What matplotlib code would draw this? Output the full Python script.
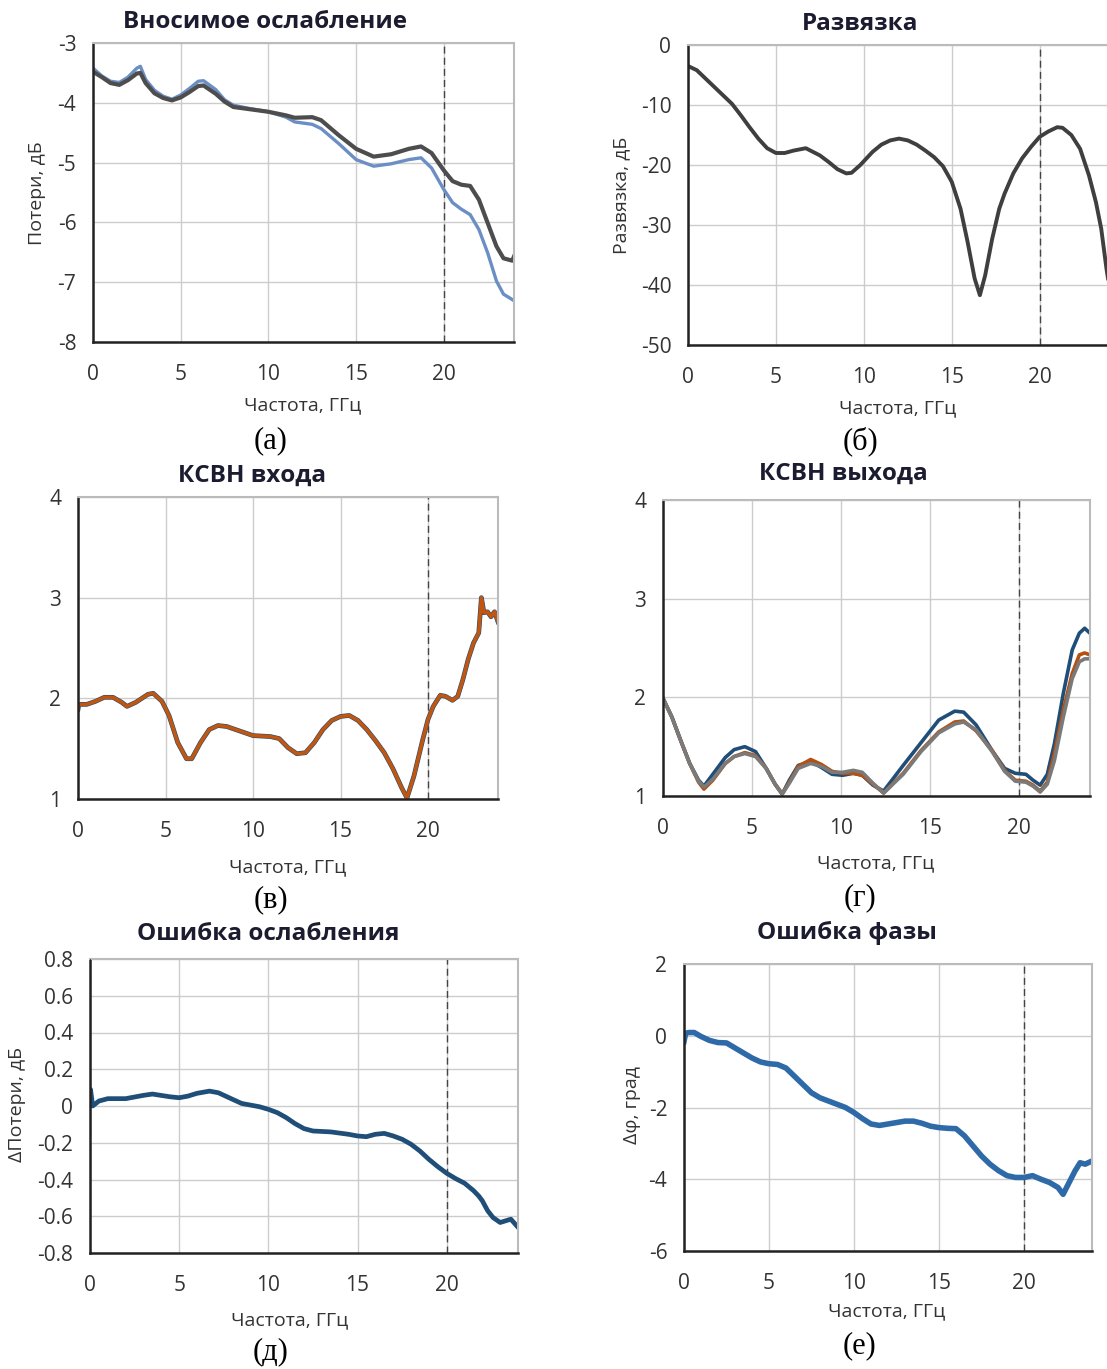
import matplotlib
matplotlib.use("Agg")
import matplotlib.pyplot as plt

plt.rcParams['font.family'] = ['Open Sans', 'DejaVu Sans']
plt.rcParams['axes.unicode_minus'] = False

# (а) Вносимое ослабление
f_a = [0, 0.5, 1, 1.5, 2, 2.5, 2.7, 3, 3.5, 4, 4.5, 5, 5.5, 6, 6.3, 7, 7.5, 8, 9, 10, 11, 11.5, 12.5,
       13, 14, 15, 16, 17, 18, 18.7, 19.3, 20, 20.5, 21, 21.5, 22, 22.5, 23, 23.4, 23.9, 24]
loss_gray = [-3.48, -3.57, -3.67, -3.70, -3.62, -3.51, -3.50, -3.67, -3.84, -3.92, -3.96, -3.91, -3.82,
             -3.72, -3.71, -3.85, -3.98, -4.07, -4.11, -4.15, -4.21, -4.25, -4.24, -4.29, -4.54, -4.77,
             -4.90, -4.86, -4.77, -4.73, -4.84, -5.13, -5.31, -5.37, -5.39, -5.62, -6.01, -6.40, -6.60,
             -6.64, -6.57]
loss_blue = [-3.42, -3.55, -3.64, -3.66, -3.57, -3.42, -3.39, -3.61, -3.79, -3.89, -3.94, -3.87, -3.76,
             -3.64, -3.63, -3.78, -3.95, -4.04, -4.10, -4.15, -4.24, -4.32, -4.36, -4.43, -4.68, -4.95,
             -5.06, -5.02, -4.95, -4.92, -5.09, -5.45, -5.67, -5.78, -5.87, -6.12, -6.51, -6.98, -7.20,
             -7.29, -7.31]

# (б) Развязка
f_b = [0, 0.5, 1, 1.5, 2, 2.5, 3, 3.5, 4, 4.5, 5, 5.5, 6, 6.7, 7.5, 8, 8.5, 9, 9.3, 9.8, 10.5, 11, 11.5,
       12, 12.5, 13, 13.5, 14, 14.5, 15, 15.5, 15.9, 16.3, 16.6, 16.9, 17.3, 17.7, 18, 18.5, 19, 19.5,
       20, 20.5, 21, 21.3, 21.8, 22.3, 22.8, 23.2, 23.5, 23.8, 24]
isol = [-3.5, -4.2, -5.6, -7.0, -8.4, -9.8, -11.7, -13.7, -15.6, -17.2, -18.0, -18.0, -17.6, -17.2,
        -18.4, -19.5, -20.7, -21.4, -21.3, -20.0, -17.8, -16.6, -15.9, -15.6, -15.9, -16.6, -17.6,
        -18.7, -20.2, -22.8, -27.3, -32.8, -38.9, -41.7, -38.4, -32.3, -27.3, -24.8, -21.4, -18.9,
        -17.0, -15.3, -14.4, -13.7, -13.8, -15.0, -17.3, -21.7, -26.2, -30.6, -37.3, -41.0]

# (в) КСВН входа
f_v = [0, 0.05, 0.5, 1, 1.5, 2, 2.5, 2.8, 3.3, 4, 4.3, 4.8, 5.2, 5.7, 6.2, 6.5, 7, 7.5, 8, 8.5, 9, 10,
       11, 11.5, 12, 12.5, 13, 13.5, 14, 14.5, 15, 15.5, 16, 16.5, 17, 17.5, 18, 18.5, 18.8, 19.2,
       19.7, 20, 20.3, 20.7, 21, 21.4, 21.7, 22, 22.3, 22.6, 22.9, 23.05, 23.2, 23.4, 23.6, 23.8, 24]
vswr_in = [1.89, 1.94, 1.94, 1.97, 2.01, 2.01, 1.96, 1.92, 1.96, 2.04, 2.05, 1.97, 1.83, 1.56, 1.40,
           1.40, 1.56, 1.69, 1.73, 1.72, 1.69, 1.63, 1.62, 1.60, 1.51, 1.45, 1.46, 1.56, 1.69, 1.78,
           1.82, 1.83, 1.78, 1.69, 1.58, 1.46, 1.30, 1.11, 1.01, 1.23, 1.59, 1.79, 1.92, 2.03, 2.02,
           1.98, 2.02, 2.19, 2.39, 2.55, 2.65, 3.00, 2.85, 2.86, 2.81, 2.86, 2.76]

# (г) КСВН выхода
f_g = [0, 0.5, 1, 1.5, 2, 2.3, 2.8, 3.5, 4, 4.6, 5.2, 5.8, 6.3, 6.7, 7.1, 7.6, 8.3, 8.9, 9.5, 10.1,
       10.7, 11.2, 11.8, 12.4, 13.5, 14.5, 15.5, 16.4, 16.9, 17.6, 18.5, 19.2, 19.8, 20.4, 20.8, 21.2,
       21.6, 22, 22.5, 23, 23.4, 23.7, 24]
vswr_out_blue = [1.99, 1.80, 1.56, 1.33, 1.16, 1.10, 1.22, 1.39, 1.47, 1.50, 1.45, 1.28, 1.12, 1.02,
                 1.16, 1.31, 1.35, 1.29, 1.22, 1.21, 1.23, 1.21, 1.11, 1.05, 1.31, 1.54, 1.77, 1.86,
                 1.85, 1.72, 1.46, 1.28, 1.23, 1.22, 1.16, 1.11, 1.22, 1.53, 2.04, 2.48, 2.65, 2.70, 2.65]
vswr_out_orange = [1.99, 1.80, 1.56, 1.33, 1.14, 1.07, 1.16, 1.33, 1.40, 1.44, 1.41, 1.28, 1.12, 1.02,
                   1.14, 1.30, 1.37, 1.32, 1.25, 1.23, 1.23, 1.21, 1.12, 1.03, 1.23, 1.46, 1.65, 1.75,
                   1.76, 1.66, 1.46, 1.26, 1.16, 1.15, 1.11, 1.05, 1.14, 1.43, 1.87, 2.24, 2.43, 2.45,
                   2.43]
vswr_out_gray = [1.99, 1.80, 1.56, 1.33, 1.15, 1.09, 1.17, 1.33, 1.40, 1.43, 1.40, 1.28, 1.12, 1.02,
                 1.13, 1.28, 1.33, 1.30, 1.24, 1.24, 1.26, 1.24, 1.13, 1.03, 1.22, 1.45, 1.64, 1.73,
                 1.75, 1.67, 1.45, 1.25, 1.15, 1.14, 1.10, 1.04, 1.12, 1.36, 1.80, 2.19, 2.36, 2.39,
                 2.39]

# (д) Ошибка ослабления
f_d = [0, 0.03, 0.15, 0.5, 1, 2, 3, 3.5, 4.5, 5, 5.5, 6, 6.7, 7.2, 8, 8.5, 9.5, 10, 10.5, 11, 11.5, 12,
       12.5, 13.5, 14.5, 15, 15.5, 16, 16.5, 17, 17.5, 18, 18.5, 19, 19.5, 20, 20.5, 21, 21.5, 21.8,
       22, 22.3, 22.6, 23, 23.3, 23.6, 24]
d_loss = [0.01, 0.09, 0.0, 0.027, 0.04, 0.04, 0.058, 0.065, 0.05, 0.045, 0.054, 0.069, 0.081, 0.072,
          0.036, 0.014, -0.004, -0.018, -0.036, -0.063, -0.096, -0.123, -0.136, -0.141, -0.154,
          -0.163, -0.167, -0.154, -0.149, -0.163, -0.181, -0.208, -0.245, -0.29, -0.33, -0.366,
          -0.395, -0.42, -0.46, -0.49, -0.516, -0.57, -0.607, -0.634, -0.625, -0.616, -0.66]

# (е) Ошибка фазы
f_e = [0, 0.1, 0.3, 0.6, 1, 1.5, 2, 2.5, 3, 3.5, 4, 4.5, 5, 5.5, 6, 6.5, 7, 7.5, 8, 8.5, 9, 9.5, 10,
       10.5, 11, 11.5, 12, 12.5, 13, 13.5, 14, 14.5, 15, 15.5, 16, 16.5, 17, 17.5, 18, 18.5, 19, 19.5,
       20, 20.5, 21, 21.5, 22, 22.3, 22.6, 23, 23.3, 23.6, 24]
d_phase = [-0.16, 0.07, 0.09, 0.09, -0.02, -0.13, -0.19, -0.2, -0.34, -0.48, -0.62, -0.73, -0.78,
           -0.8, -0.9, -1.13, -1.36, -1.59, -1.73, -1.82, -1.91, -2.0, -2.14, -2.31, -2.46, -2.5,
           -2.46, -2.42, -2.38, -2.38, -2.44, -2.52, -2.56, -2.58, -2.59, -2.79, -3.07, -3.35, -3.58,
           -3.76, -3.9, -3.95, -3.95, -3.9, -4.0, -4.09, -4.23, -4.42, -4.14, -3.77, -3.54, -3.58,
           -3.49]

W, H = 1107, 1369
fig = plt.figure(figsize=(W / 100, H / 100), dpi=100)


def make_ax(l, r, t, b, ylim, yticks, ylabels=None):
    ax = fig.add_axes([l / W, 1 - b / H, (r - l) / W, (b - t) / H])
    ax.set_xlim(0, 24)
    ax.set_ylim(*ylim)
    ax.set_xticks([0, 5, 10, 15, 20])
    ax.set_yticks(yticks)
    if ylabels is not None:
        ax.set_yticklabels(ylabels)
    ax.grid(True, color='#cccccc', linewidth=1.0)
    ax.set_axisbelow(True)
    ax.tick_params(length=0, labelsize=15, colors='#333333')
    ax.tick_params(axis='y', pad=12)
    ax.tick_params(axis='x', pad=16)
    for s in ['left', 'bottom']:
        ax.spines[s].set_color('#222222')
        ax.spines[s].set_linewidth(1.8)
    for s in ['top', 'right']:
        ax.spines[s].set_color('#bbbbbb')
        ax.spines[s].set_linewidth(1.5)
    ax.axvline(20, color='#444444', linestyle=(0, (5, 3)), linewidth=1.0, zorder=1)
    return ax


def labels(title, tx, ty, xl, xx, xy, cap, cx, cy, yl=None, yx=None, yy=None):
    fig.text(tx / W, 1 - ty / H, title, ha='center', va='center', fontsize=17.5,
             fontweight='bold', color='#1c1c30')
    fig.text(xx / W, 1 - xy / H, xl, ha='center', va='center', fontsize=14, color='#333333')
    fig.text(cx / W, 1 - cy / H, cap, ha='center', va='center', fontsize=22,
             family='Liberation Serif', color='black')
    if yl:
        fig.text(yx / W, 1 - yy / H, yl, ha='center', va='center', fontsize=14,
                 rotation=90, color='#333333')


# (а)
ax = make_ax(93, 514, 43, 342, (-8, -3), range(-8, -2))
ax.plot(f_a, loss_blue, color='#6b8fc4', linewidth=2.4)
ax.plot(f_a, loss_gray, color='#4d4d4d', linewidth=3.0)
labels('Вносимое ослабление', 265, 22, 'Частота, ГГц', 303, 405, '(а)', 271, 441,
       'Потери, дБ', 37, 193)

# (б)
ax = make_ax(688, 1110, 45, 345, (-50, 0), range(-50, 1, 10))
ax.plot(f_b, isol, color='#3f3f3f', linewidth=2.8)
labels('Развязка', 860, 24, 'Частота, ГГц', 898, 408, '(б)', 860, 441,
       'Развязка, дБ', 621, 195)

# (в)
ax = make_ax(78, 498, 497, 799, (1, 4), [1, 2, 3, 4])
ax.plot(f_v, vswr_in, color='#1f4e79', linewidth=3.4)
ax.plot(f_v, vswr_in, color='#c0560f', linewidth=2.6)
labels('КСВН входа', 252, 476, 'Частота, ГГц', 288, 867, '(в)', 271, 900)

# (г)
ax = make_ax(663, 1090, 500, 796, (1, 4), [1, 2, 3, 4])
ax.plot(f_g, vswr_out_blue, color='#1f4e79', linewidth=2.6)
ax.plot(f_g, vswr_out_orange, color='#b5500f', linewidth=2.6)
ax.plot(f_g, vswr_out_gray, color='#7a7a7a', linewidth=2.6)
labels('КСВН выхода', 843, 474, 'Частота, ГГц', 876, 863, '(г)', 860, 898)

# (д)
ax = make_ax(90, 518, 959, 1253, (-0.8, 0.8), [-0.8, -0.6, -0.4, -0.2, 0, 0.2, 0.4, 0.6, 0.8],
             ['-0.8', '-0.6', '-0.4', '-0.2', '0', '0.2', '0.4', '0.6', '0.8'])
ax.axvline(0, color='#222222', linestyle=(0, (5, 3)), linewidth=1.5, zorder=3)
ax.plot(f_d, d_loss, color='#1f4e79', linewidth=3.4)
labels('Ошибка ослабления', 268, 934, 'Частота, ГГц', 290, 1320, '(д)', 271, 1352,
       'ΔПотери, дБ', 17, 1105)

# (е)
ax = make_ax(684, 1092, 964, 1251, (-6, 2), [-6, -4, -2, 0, 2])
ax.plot(f_e, d_phase, color='#2e6aa8', linewidth=4.0)
labels('Ошибка фазы', 847, 933, 'Частота, ГГц', 887, 1311, '(е)', 860, 1346,
       'Δφ, град', 632, 1105)

fig.savefig('out.png', dpi=100)
